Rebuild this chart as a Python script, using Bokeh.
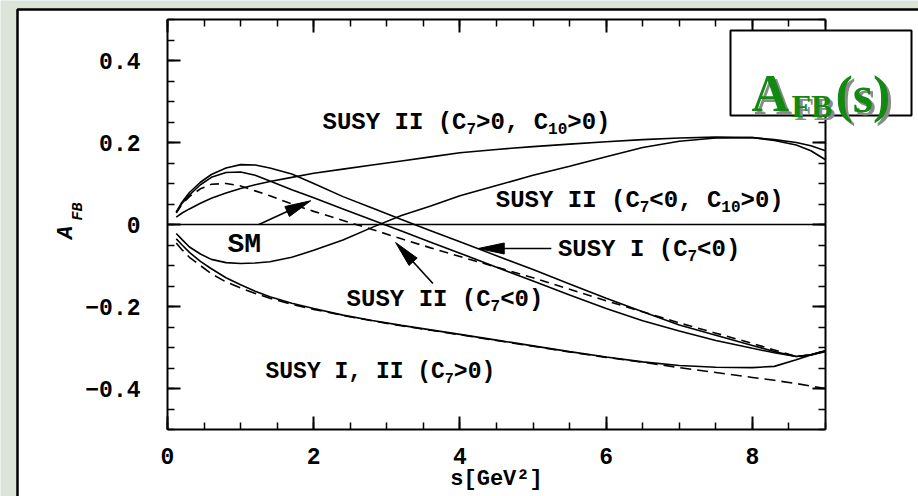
import numpy as np
from bokeh.plotting import figure
from bokeh.models import (FixedTicker, LinearAxis, Label, BoxAnnotation, ColumnDataSource)
from bokeh.core.properties import value
from bokeh.embed import file_html
from bokeh.resources import INLINE

# ---------------- data ----------------
s = [0.12, 0.2, 0.3, 0.45, 0.6, 0.8, 1.0, 1.2, 1.4, 1.7, 2.0, 2.4, 2.8, 3.2,
     3.6, 4.0, 4.5, 5.0, 5.5, 6.0, 6.5, 7.0, 7.5, 8.0, 8.3, 8.6, 8.8, 9.0]

susy2_c7p_c10p = [0.018, 0.028, 0.038, 0.052, 0.064, 0.077, 0.088, 0.097, 0.105, 0.115,
                  0.125, 0.135, 0.145, 0.155, 0.165, 0.175, 0.183, 0.19, 0.196, 0.202,
                  0.207, 0.211, 0.213, 0.212, 0.207, 0.2, 0.192, 0.18]
susy2_c7n_c10p = [-0.022, -0.037, -0.055, -0.072, -0.085, -0.093, -0.095, -0.094, -0.091,
                  -0.08, -0.063, -0.038, -0.007, 0.022, 0.045, 0.07, 0.095, 0.12, 0.142,
                  0.165, 0.188, 0.203, 0.211, 0.212, 0.205, 0.194, 0.18, 0.158]
susy1_c7n = [0.03, 0.055, 0.078, 0.103, 0.122, 0.138, 0.146, 0.145, 0.138, 0.123, 0.1,
             0.068, 0.04, 0.012, -0.015, -0.042, -0.076, -0.11, -0.145, -0.18, -0.213,
             -0.245, -0.27, -0.295, -0.31, -0.322, -0.318, -0.308]
susy2_c7n = [0.03, 0.052, 0.072, 0.097, 0.115, 0.127, 0.128, 0.12, 0.106, 0.085, 0.065,
             0.038, 0.011, -0.016, -0.043, -0.07, -0.104, -0.138, -0.172, -0.205, -0.235,
             -0.26, -0.283, -0.302, -0.313, -0.322, -0.318, -0.308]
sm = [0.028, 0.05, 0.068, 0.087, 0.098, 0.1, 0.094, 0.082, 0.07, 0.05, 0.032, 0.01,
      -0.012, -0.035, -0.057, -0.078, -0.104, -0.13, -0.158, -0.186, -0.213, -0.24,
      -0.265, -0.29, -0.306, -0.322, -0.318, -0.308]
susy12_c7p = [-0.035, -0.05, -0.068, -0.09, -0.108, -0.13, -0.147, -0.163, -0.176, -0.192,
              -0.205, -0.221, -0.234, -0.246, -0.257, -0.268, -0.282, -0.296, -0.31,
              -0.323, -0.335, -0.344, -0.348, -0.349, -0.346, -0.33, -0.318, -0.31]
susy12_c7p_dash = [-0.045, -0.062, -0.08, -0.1, -0.12, -0.14, -0.155, -0.168, -0.18, -0.195,
                   -0.207, -0.222, -0.235, -0.247, -0.258, -0.269, -0.283, -0.297, -0.311,
                   -0.324, -0.336, -0.349, -0.361, -0.373, -0.38, -0.388, -0.394, -0.4]

x_ticks = [0, 2, 4, 6, 8]
x_minor = [i * 0.5 for i in range(19)]
y_ticks = [-0.4, -0.2, 0, 0.2, 0.4]
y_tick_labels = ["\u22120.4", "\u22120.2", "0", "0.2", "0.4"]
y_minor = [round(-0.5 + i * 0.05, 2) for i in range(21)]

# curve labels: (x, y, pieces (text, is_subscript), main font px)
curve_labels = [
    (2.12, 0.249, [("SUSY II (C", 0), ("7", 1), (">0, C", 0), ("10", 1), (">0)", 0)], 24),
    (4.49, 0.058, [("SUSY II (C", 0), ("7", 1), ("<0, C", 0), ("10", 1), (">0)", 0)], 24),
    (5.34, -0.061, [("SUSY I (C", 0), ("7", 1), ("<0)", 0)], 24),
    (2.45, -0.183, [("SUSY II (C", 0), ("7", 1), ("<0)", 0)], 24),
    (1.34, -0.359, [("SUSY I, II (C", 0), ("7", 1), (">0)", 0)], 23),
    (0.82, -0.049, [("SM", 0)], 28),
]
# arrows: (x_start, y_start, x_end, y_end) in data units
arrows = [
    (1.25, 0.0, 1.96, 0.058),
    (5.25, -0.0585, 4.25, -0.0585),
    (3.63, -0.144, 3.12, -0.044),
]

# ---------------- geometry ----------------
W, H = 918, 496
FL, FR, FT, FB = 167, 93, 19, 67          # plot box inside the canvas
XD, YD = (0, 9), (-0.5, 0.5)              # data extent of the plot box
kx = (W - FL - FR) / (XD[1] - XD[0])
ky = (H - FT - FB) / (YD[1] - YD[0])
XR = (XD[0] - FL / kx, XD[1] + FR / kx)
YR = (YD[0] - FB / ky, YD[1] + FT / ky)

p = figure(width=W, height=H, x_range=XR, y_range=YR, output_backend="svg",
           toolbar_location=None, min_border=0,
           background_fill_color="#dce3d7", border_fill_color="#dce3d7",
           x_axis_location=None, y_axis_location=None)
p.grid.visible = False
p.outline_line_color = None

# white panel with black border (left & top visible)
p.add_layout(BoxAnnotation(left=17, right=W + 50, top=H - 9, bottom=-50,
                           left_units="screen", right_units="screen",
                           top_units="screen", bottom_units="screen",
                           fill_color="white", fill_alpha=1, line_color="black",
                           line_alpha=1, line_width=2.5, level="underlay"))

FONT = "Liberation Mono"


def make_axis(ticks, minor, loc, bounds, overrides):
    ax = LinearAxis(ticker=FixedTicker(ticks=ticks, minor_ticks=minor),
                    fixed_location=loc, bounds=bounds)
    ax.major_tick_in = 13
    ax.major_tick_out = 0
    ax.minor_tick_in = 7
    ax.minor_tick_out = 0
    ax.axis_line_width = 2
    ax.major_tick_line_width = 2
    ax.minor_tick_line_width = 1.5
    ax.major_label_text_font = FONT
    ax.major_label_text_font_style = "bold"
    ax.major_label_text_font_size = "23px"
    ax.major_label_text_color = "black"
    if overrides is not None:
        ax.major_label_overrides = overrides
    else:
        ax.major_label_overrides = {t: "" for t in ticks}
        ax.major_label_text_font_size = "1px"
        ax.major_label_standoff = 0
    return ax


xb = make_axis(x_ticks, x_minor, YD[0], XD, {t: str(t) for t in x_ticks})
xb.major_label_standoff = 18
xb.axis_label = "s[GeV\u00b2]"
xb.axis_label_text_font = FONT
xb.axis_label_text_font_style = "bold"
xb.axis_label_text_font_size = "22px"
xb.axis_label_text_color = "black"
xb.axis_label_standoff = 0
p.add_layout(xb, "below")

yl = make_axis(y_ticks, y_minor, XD[0], YD, dict(zip(y_ticks, y_tick_labels)))
yl.major_label_standoff = 27
p.add_layout(yl, "left")

p.add_layout(make_axis(x_ticks, x_minor, YD[1], XD, None), "above")
p.add_layout(make_axis(y_ticks, y_minor, XD[1], YD, None), "right")

# zero line across the plot box
p.segment(x0=[XD[0]], y0=[0], x1=[XD[1]], y1=[0], line_color="black", line_width=1.5)

# ---------------- curves ----------------
lw = 1.6
p.line(s, susy2_c7p_c10p, line_color="black", line_width=lw)
p.line(s, susy2_c7n_c10p, line_color="black", line_width=lw)
p.line(s, susy1_c7n, line_color="black", line_width=lw)
p.line(s, susy2_c7n, line_color="black", line_width=lw)
p.line(s, sm, line_color="black", line_width=lw, line_dash="9 6")
p.line(s, susy12_c7p, line_color="black", line_width=lw)
p.line(s, susy12_c7p_dash, line_color="black", line_width=lw, line_dash="11 6")

# ---------------- arrows ----------------
HL, HW = 26, 5.5
seg = dict(x0=[], y0=[], x1=[], y1=[])
heads_x, heads_y = [], []
for (x0, y0, x1, y1) in arrows:
    ddx, ddy = (x1 - x0) * kx, (y1 - y0) * ky
    L = (ddx * ddx + ddy * ddy) ** 0.5
    ux, uy = ddx / L, ddy / L
    bx, by = -ux * HL, -uy * HL
    px_, py_ = -uy * HW, ux * HW
    heads_x.append([x1, x1 + (bx + px_) / kx, x1 + (bx - px_) / kx])
    heads_y.append([y1, y1 + (by + py_) / ky, y1 + (by - py_) / ky])
    seg["x0"].append(x0); seg["y0"].append(y0)
    seg["x1"].append(x1 - ux * 8 / kx); seg["y1"].append(y1 - uy * 8 / ky)
p.segment(x0="x0", y0="y0", x1="x1", y1="y1", source=ColumnDataSource(seg),
          line_color="black", line_width=1.6)
p.patches(heads_x, heads_y, fill_color="black", line_color="black", line_width=1)

# ---------------- curve labels ----------------
cols = dict(x=[], y=[], text=[], xo=[], yo=[], size=[])
for (lx, ly, pieces, big) in curve_labels:
    small = round(big * 0.65)
    off = 0.0
    for (txt, sub) in pieces:
        fs = small if sub else big
        cols["x"].append(lx); cols["y"].append(ly); cols["text"].append(txt)
        cols["xo"].append(off); cols["yo"].append(6 if sub else 0)
        cols["size"].append(f"{fs}px")
        off += 0.6 * fs * len(txt)
p.text(x="x", y="y", text="text", x_offset="xo", y_offset="yo",
       text_font_size="size", source=ColumnDataSource(cols),
       text_font=value(FONT), text_font_style="bold", text_color="black",
       text_baseline="middle", text_align="left")

# ---------------- y axis label (rotated) ----------------
p.add_layout(Label(x=66, y=H - 232, x_units="screen", y_units="screen",
                   text="A", angle=np.pi / 2, text_font=FONT, text_font_style="bold italic",
                   text_font_size="22px", text_align="center", text_baseline="middle",
                   text_color="black"))
p.add_layout(Label(x=78, y=H - 211, x_units="screen", y_units="screen",
                   text="FB", angle=np.pi / 2, text_font=FONT, text_font_style="bold italic",
                   text_font_size="15px", text_align="center", text_baseline="middle",
                   text_color="black"))

# ---------------- title box ----------------
GREEN = "#128a12"
p.add_layout(BoxAnnotation(left=730, right=911, top=H - 30, bottom=H - 115,
                           left_units="screen", right_units="screen",
                           top_units="screen", bottom_units="screen",
                           fill_color="white", fill_alpha=1, line_color="black",
                           line_alpha=1, line_width=2, level="annotation"))
title_parts = [("A", 751, 93, 52), ("FB", 791, 105, 32), ("(s)", 835, 94, 52)]
for color, d in (("#8a8a8a", 3), (GREEN, 0)):
    for (txt, cx, cy, fs) in title_parts:
        p.add_layout(Label(x=cx + d, y=H - cy - d, x_units="screen",
                           y_units="screen", text=txt, text_font="Liberation Serif",
                           text_font_style="bold", text_font_size=f"{fs}px",
                           text_color=color, text_baseline="alphabetic",
                           text_align="left"))

open("out.html", "w").write(file_html(p, INLINE))
